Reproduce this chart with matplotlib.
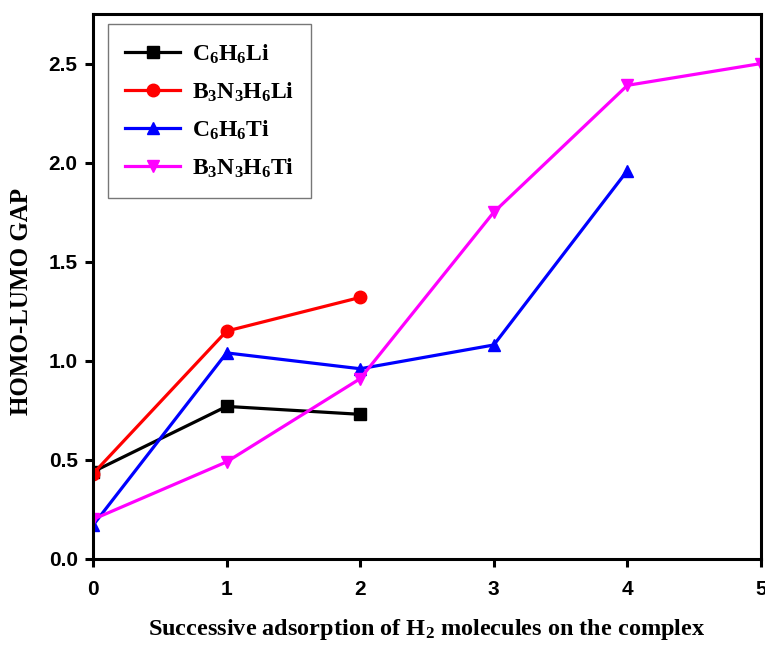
import matplotlib
matplotlib.use("Agg")
import matplotlib.pyplot as plt

# number of adsorbed H2 molecules
n_c6h6li = [0, 1, 2]
n_b3n3h6li = [0, 1, 2]
n_c6h6ti = [0, 1, 2, 3, 4]
n_b3n3h6ti = [0, 1, 2, 3, 4, 5]

# HOMO-LUMO gap values
gap_c6h6li = [0.44, 0.77, 0.73]
gap_b3n3h6li = [0.43, 1.15, 1.32]
gap_c6h6ti = [0.17, 1.04, 0.96, 1.08, 1.96]
gap_b3n3h6ti = [0.20, 0.49, 0.91, 1.75, 2.39, 2.50]

labels = [r'$\mathrm{C_6H_6Li}$', r'$\mathrm{B_3N_3H_6Li}$',
          r'$\mathrm{C_6H_6Ti}$', r'$\mathrm{B_3N_3H_6Ti}$']

plt.rcParams['mathtext.fontset'] = 'custom'
plt.rcParams['mathtext.rm'] = 'Liberation Serif:bold'
plt.rcParams['mathtext.bf'] = 'Liberation Serif:bold'
plt.rcParams['mathtext.it'] = 'Liberation Serif:bold'

fig = plt.figure(figsize=(7.65, 6.45), dpi=100)
ax = fig.add_axes([93/765, 86/645, 668/765, 545/645])

lw = 2.3
ax.plot(n_c6h6li, gap_c6h6li, '-s', color='black', lw=lw, ms=8, label=labels[0])
ax.plot(n_b3n3h6li, gap_b3n3h6li, '-o', color='#ff0000', lw=lw, ms=9, label=labels[1])
ax.plot(n_c6h6ti, gap_c6h6ti, '-^', color='#0000ff', lw=lw, ms=9, label=labels[2])
ax.plot(n_b3n3h6ti, gap_b3n3h6ti, '-v', color='#ff00ff', lw=lw, ms=9, label=labels[3])

ax.set_xlim(0, 5)
ax.set_ylim(0, 2.75)
ax.set_xticks([0, 1, 2, 3, 4, 5])
ax.set_yticks([0.0, 0.5, 1.0, 1.5, 2.0, 2.5])
ax.set_yticklabels(['0.0', '0.5', '1.0', '1.5', '2.0', '2.5'])

for s in ax.spines.values():
    s.set_linewidth(2.2)
ax.tick_params(direction='out', length=6, width=2.2, labelsize=15)
ax.tick_params(axis='x', pad=9)
ax.tick_params(axis='y', pad=5)
for t in ax.get_xticklabels() + ax.get_yticklabels():
    t.set_fontfamily('Liberation Sans')
    t.set_fontweight('bold')

ax.set_xlabel(r'Successive adsorption of H$_2$ molecules on the complex',
              fontfamily='Liberation Serif', fontweight='bold', fontsize=17.5, labelpad=13)
ax.set_ylabel('HOMO-LUMO GAP', fontfamily='Liberation Serif', fontweight='bold',
              fontsize=18)
ax.yaxis.set_label_coords(-0.09, 0.472)

leg = ax.legend(loc='upper left', bbox_to_anchor=(0.022, 0.982), fontsize=17,
                frameon=True, fancybox=False, handlelength=2.3, labelspacing=0.58,
                borderpad=0.75, handletextpad=0.5, borderaxespad=0)
leg.get_frame().set_edgecolor('#555555')
leg.get_frame().set_linewidth(1.0)

fig.savefig('out.png', dpi=100)
